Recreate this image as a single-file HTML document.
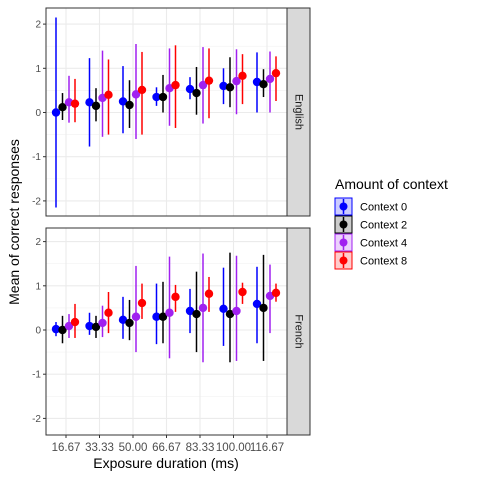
<!DOCTYPE html>
<html><head><meta charset="utf-8"><style>
body{margin:0;background:#fff;}
text{font-family:"Liberation Sans",sans-serif;}
</style></head><body>
<svg id="chart" width="480" height="480" xmlns="http://www.w3.org/2000/svg">
<rect width="480" height="480" fill="#fff"/>
</svg>
<script>
const categories=["16.67","33.33","50.00","66.67","83.33","100.00","116.67"];
const contexts=["Context 0","Context 2","Context 4","Context 8"];
const colors=["#0000ff","#000000","#a020f0","#ff0000"];
const yTicks=[2,1,0,-1,-2];
const engMean=[[0,0.23,0.25,0.35,0.53,0.6,0.69],[0.12,0.15,0.17,0.35,0.44,0.57,0.64],[0.23,0.33,0.41,0.55,0.62,0.71,0.76],[0.2,0.4,0.51,0.62,0.72,0.83,0.89]];
const engLow=[[-2.15,-0.77,-0.47,0.15,0.3,0.19,0],[-0.17,-0.2,-0.35,0,-0.05,0.12,0.35],[-0.23,-0.55,-0.6,-0.3,-0.25,-0.04,0],[-0.22,-0.5,-0.5,-0.35,-0.13,0.19,0.26]];
const engHigh=[[2.15,1.23,1.05,0.57,0.8,1.0,1.36],[0.44,0.55,0.73,0.85,1.03,1.25,0.98],[0.83,1.4,1.55,1.45,1.48,1.43,1.38],[0.76,1.2,1.37,1.52,1.45,1.32,1.27]];
const freMean=[[0.02,0.09,0.23,0.3,0.43,0.48,0.59],[0,0.07,0.16,0.3,0.36,0.36,0.5],[0.09,0.16,0.3,0.39,0.5,0.43,0.77],[0.18,0.39,0.61,0.75,0.82,0.86,0.84]];
const freLow=[[-0.14,-0.11,-0.2,-0.32,-0.07,-0.36,-0.3],[-0.3,-0.18,-0.23,-0.3,-0.5,-0.73,-0.7],[-0.18,-0.16,-0.5,-0.64,-0.73,-0.7,-0.07],[-0.18,-0.07,0.25,0.41,0.41,0.59,0.64]];
const freHigh=[[0.18,0.39,0.75,1.05,0.93,1.41,1.43],[0.32,0.32,0.68,1.09,1.32,1.75,1.7],[0.36,0.55,1.45,1.66,1.73,1.68,1.48],[0.59,0.86,1.05,1.02,1.2,1.07,1.05]];

const svg=document.getElementById('chart');
const NS="http://www.w3.org/2000/svg";
function mk(tag,attrs,parent){const e=document.createElementNS(NS,tag);for(const k in attrs)e.setAttribute(k,attrs[k]);(parent||svg).appendChild(e);return e;}
const PX0=46,PX1=287;
const xScale=i=>66+i*33.5;
const offsets=[-10,-3.5,3,9];
const panels=[{name:"English",top:8,bot:216,zero:112.5,mean:engMean,low:engLow,high:engHigh},
{name:"French",top:228,bot:435,zero:330,mean:freMean,low:freLow,high:freHigh}];
const UNIT=44.2;
panels.forEach((p,pi)=>{
  const y=v=>p.zero-v*UNIT;
  const g=mk('g',{});
  
  
  mk('rect',{x:PX0,y:p.top,width:PX1-PX0,height:p.bot-p.top,fill:'#fff'},g);
  for(let v=-2.5;v<=2.5;v+=1){const yy=y(v);if(yy>p.top&&yy<p.bot)mk('line',{x1:PX0,x2:PX1,y1:yy,y2:yy,stroke:'#f2f2f2','stroke-width':0.6},g);}
  yTicks.forEach(v=>{mk('line',{x1:PX0,x2:PX1,y1:y(v),y2:y(v),stroke:'#ebebeb','stroke-width':1.1},g);
    mk('line',{x1:PX0-3,x2:PX0,y1:y(v),y2:y(v),stroke:'#333','stroke-width':1},g);
    const t=mk('text',{x:PX0-5,y:y(v)+3.5,'text-anchor':'end','font-size':10,fill:'#4d4d4d'},g);t.textContent=v;
    });
  categories.forEach((c,i)=>mk('line',{x1:xScale(i),x2:xScale(i),y1:p.top,y2:p.bot,stroke:'#ebebeb','stroke-width':1.1},g));
  contexts.forEach((ctx,s)=>{
    categories.forEach((c,i)=>{
      const x=xScale(i)+offsets[s];
      const l=mk('line',{x1:x,x2:x,y1:y(p.low[s][i]),y2:y(p.high[s][i]),stroke:colors[s],'stroke-width':1.5},g);
      
      const d=mk('circle',{cx:x,cy:y(p.mean[s][i]),r:4.2,fill:colors[s]},g);
      
    });
  });
  mk('rect',{x:PX0,y:p.top,width:PX1-PX0,height:p.bot-p.top,fill:'none',stroke:'#333','stroke-width':1},g);
  const st=mk('rect',{x:PX1,y:p.top,width:23,height:p.bot-p.top,fill:'#d9d9d9',stroke:'#333','stroke-width':1},g);
  
  const cy=(p.top+p.bot)/2;
  const lt=mk('text',{x:298.5,y:cy,'text-anchor':'middle','font-size':11,fill:'#1a1a1a',transform:`rotate(90 298.5 ${cy})`,'dominant-baseline':'central'},g);
  lt.textContent=p.name;
});
categories.forEach((c,i)=>{
  mk('line',{x1:xScale(i),x2:xScale(i),y1:435,y2:438,stroke:'#333','stroke-width':1});
  const t=mk('text',{x:xScale(i),y:451,'text-anchor':'middle','font-size':11.5,fill:'#4d4d4d'});t.textContent=c;
  
});
let t=mk('text',{x:166,y:468,'text-anchor':'middle','font-size':14,fill:'#000'});t.textContent="Exposure duration (ms)";

t=mk('text',{x:19,y:222,'text-anchor':'middle','font-size':14,fill:'#000',transform:'rotate(-90 19 222)'});t.textContent="Mean of correct responses";

t=mk('text',{x:335,y:189,'font-size':14,fill:'#000'});t.textContent="Amount of context";

contexts.forEach((c,s)=>{
  const yy=198+s*18;
  const g=mk('g',{});
  
  
  mk('rect',{x:335,y:yy,width:17,height:17,fill:colors[s],'fill-opacity':0.2,stroke:colors[s],'stroke-width':1},g);
  mk('line',{x1:343.5,x2:343.5,y1:yy+1,y2:yy+16,stroke:colors[s],'stroke-width':1.5},g);
  mk('circle',{cx:343.5,cy:yy+8.5,r:4,fill:colors[s]},g);
  const tt=mk('text',{x:360,y:yy+12.5,'font-size':11,fill:'#000'},g);tt.textContent=c;
});
</script>
</body></html>
